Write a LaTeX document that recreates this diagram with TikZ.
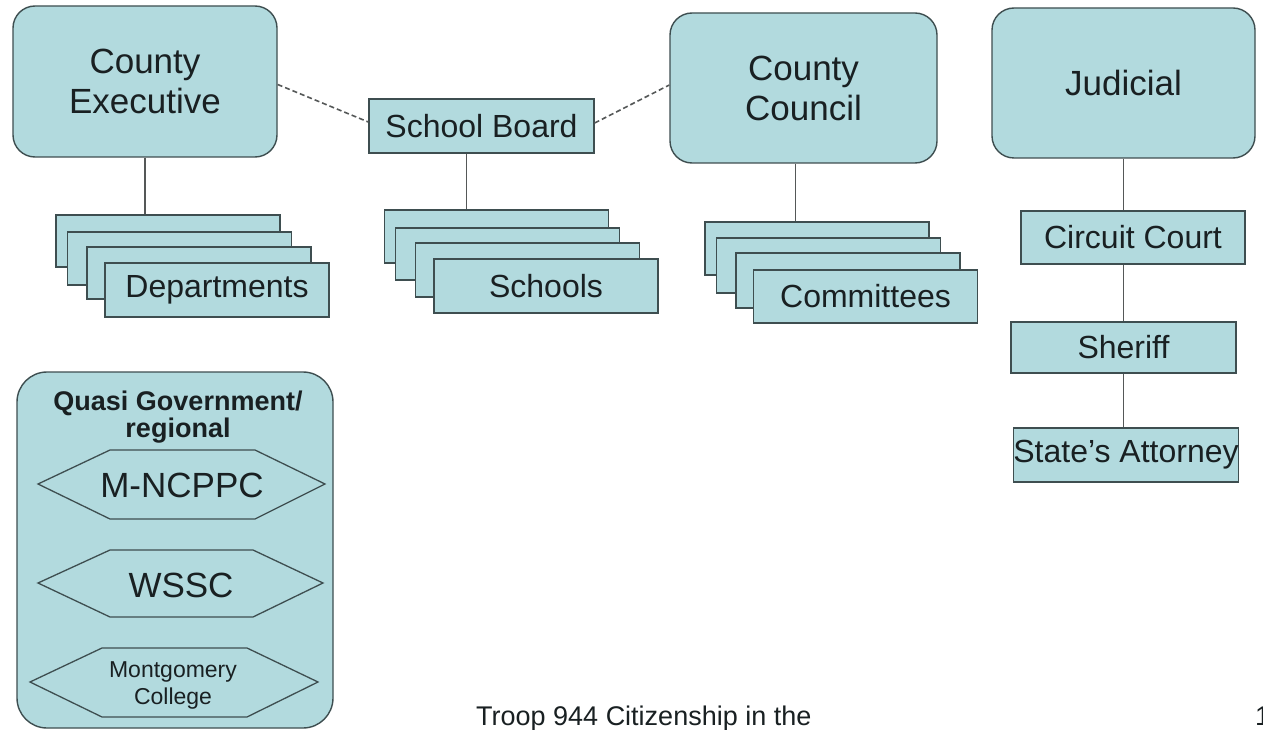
\documentclass[tikz,border=0pt]{standalone}
\usepackage{fontspec}
\setmainfont{Liberation Sans}
\usetikzlibrary{calc}
\definecolor{boxfill}{RGB}{178,218,222}
\definecolor{boxline}{RGB}{62,78,80}
\definecolor{conncol}{RGB}{85,88,88}
\definecolor{txt}{RGB}{25,32,34}
\begin{document}
\begin{tikzpicture}[x=1pt,y=-1pt,
  bigbox/.style={draw=boxline, fill=boxfill, line width=1.4pt, rounded corners=22pt,
    align=center, text=txt, font=\fontsize{35}{40}\selectfont, inner sep=0pt},
  smallbox/.style={draw=boxline, fill=boxfill, line width=1.4pt, align=center,
    text=txt, font=\fontsize{32}{36}\selectfont, inner sep=0pt, minimum width=224pt},
  quasibox/.style={draw=boxline, fill=boxfill, line width=1.4pt, rounded corners=30pt, inner sep=0pt},
  hexbox/.style={draw=boxline, fill=boxfill, line width=1.3pt},
  hextext/.style={text=txt, inner sep=0pt, align=center},
  conn/.style={draw=conncol, line width=1.8pt},
  dashconn/.style={draw=conncol, line width=1.6pt, dash pattern=on 5pt off 3pt},
  plain/.style={text=txt, inner sep=0pt}
]
\useasboundingbox (0,0) rectangle (1263,730);
\fill[white] (0,0) rectangle (1263,730);

% top level boxes
\node[bigbox, minimum width=264pt, minimum height=151pt] (ce) at (145,81.5) {County\\Executive};
\node[smallbox, minimum width=225pt, minimum height=54pt] (sb) at (481.5,126) {School Board};
\node[bigbox, minimum width=267pt, minimum height=150pt] (cc) at (803.5,88) {County\\Council};
\node[bigbox, minimum width=263pt, minimum height=150pt] (jud) at (1123.5,83) {Judicial};

% departments stack
\node[smallbox, minimum height=52pt] (d1) at (168,241) {};
\node[smallbox, minimum height=53pt] (d2) at (179.5,258.5) {};
\node[smallbox, minimum height=52pt] (d3) at (199,273) {};
\node[smallbox, minimum height=54pt] (d4) at (217,290) {Departments};

% schools stack
\node[smallbox, minimum height=53pt] (s1) at (496.5,236.5) {};
\node[smallbox, minimum height=52pt] (s2) at (507.5,254) {};
\node[smallbox, minimum height=54pt] (s3) at (527.5,270) {};
\node[smallbox, minimum height=54pt] (s4) at (546,286) {Schools};

% committees stack
\node[smallbox, minimum height=53pt] (c1) at (817,248.5) {};
\node[smallbox, minimum height=55pt] (c2) at (828.5,265.5) {};
\node[smallbox, minimum height=55pt] (c3) at (848,280.5) {};
\node[smallbox, minimum height=53pt] (c4) at (865.5,296.5) {Committees};

% judicial chain
\node[smallbox, minimum height=53pt] (circ) at (1133,237.5) {Circuit Court};
\node[smallbox, minimum width=225pt, minimum height=51pt] (sher) at (1123.5,347.5) {Sheriff};
\node[smallbox, minimum height=54pt] (sa) at (1126,455) {State’s Attorney};

% connectors
\draw[dashconn] ([yshift=-3pt]ce.east) -- ([yshift=4pt]sb.west);
\draw[dashconn] ([yshift=3pt]sb.east) -- ([yshift=3pt]cc.west);
\draw[conn] (ce.south) -- (ce.south |- d1.north);
\draw[conn] ([xshift=-15pt]sb.south) -- ([xshift=-15pt]sb.south |- s1.north);
\draw[conn] ([xshift=-8pt]cc.south) -- ([xshift=-8pt]cc.south |- c1.north);
\draw[conn] (jud.south) -- (jud.south |- circ.north);
\draw[conn] (jud.south |- circ.south) -- (jud.south |- sher.north);
\draw[conn] (sher.south) -- (sher.south |- sa.north);

% quasi government box
\node[quasibox, minimum width=316pt, minimum height=356pt] (quasi) at (175,550) {};
\node[plain, align=center, font=\bfseries\fontsize{27}{27}\selectfont] (qt) at (178,417) {Quasi Government/\\regional};
\draw[hexbox] (38,484) -- (110,450) -- (255,450) -- (325,484) -- (255,519) -- (110,519) -- cycle;
\node[hextext, font=\fontsize{35}{40}\selectfont] (mn) at (182,485) {M-NCPPC};
\draw[hexbox] (38,583) -- (110,550) -- (253,550) -- (323,583) -- (253,617) -- (110,617) -- cycle;
\node[hextext, font=\fontsize{35}{40}\selectfont] (ws) at (181,585) {WSSC};
\draw[hexbox] (30,682) -- (102,648) -- (247,648) -- (318,682) -- (247,717) -- (102,717) -- cycle;
\node[hextext, font=\fontsize{23}{27}\selectfont] (mc) at (173,685) {Montgomery\\College};

% footer
\node[plain, anchor=base west, font=\fontsize{27}{30}\selectfont] (foot) at (476,725) {Troop 944 Citizenship in the};
\node[plain, anchor=base west, font=\fontsize{27}{30}\selectfont] (pg) at (1255,725) {1};
\end{tikzpicture}
\end{document}
